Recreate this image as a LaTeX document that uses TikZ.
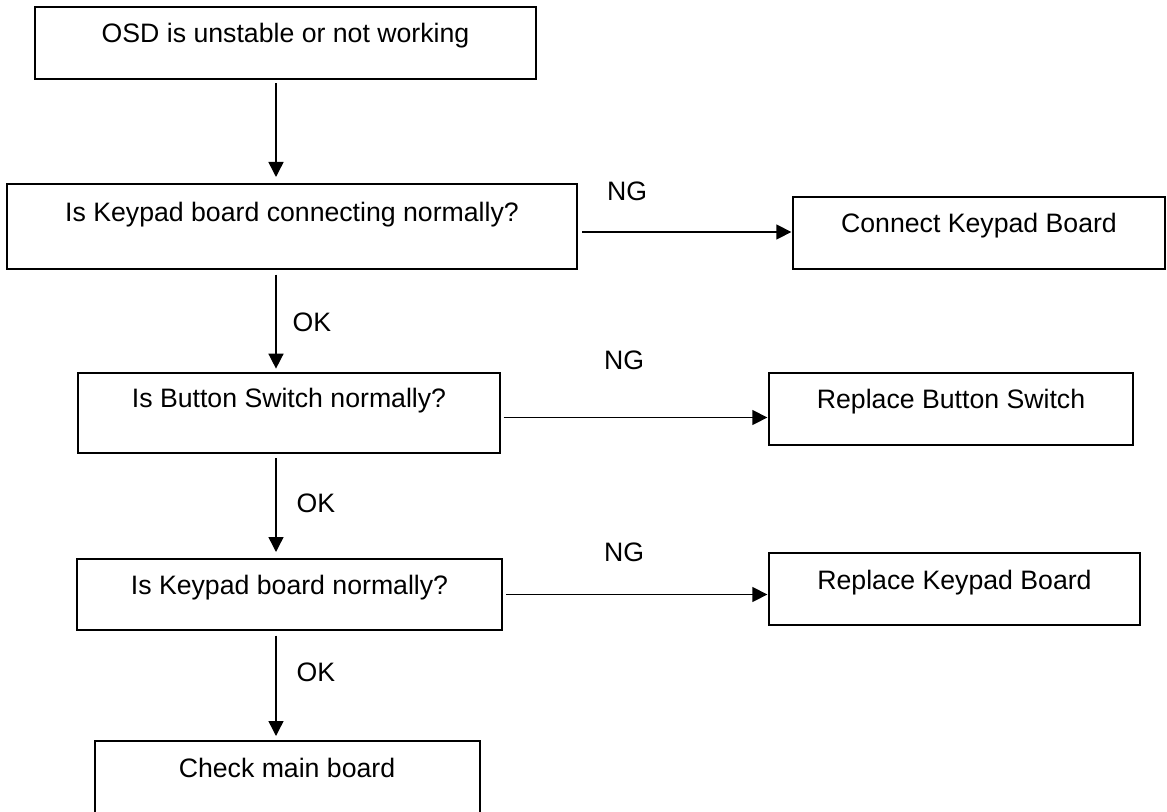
\documentclass[tikz,border=0pt]{standalone}
\usepackage{fontspec}
\setmainfont{Liberation Sans}
\usetikzlibrary{arrows.meta}
\begin{document}
\begin{tikzpicture}[x=0.75pt,y=-0.75pt,
  font=\fontsize{20}{24}\selectfont,
  box/.style={draw, line width=1.5pt, inner xsep=0pt, inner ysep=0pt, anchor=base},
  arr/.style={line width=1.1pt, -{Triangle[width=11.25pt,length=11.25pt]}},
  lbl/.style={inner sep=0pt, anchor=center}]
\useasboundingbox (0,0) rectangle (1167,811);
% main column
\node[box, minimum width=375.75pt, text height=26.63pt, text depth=27.38pt] (B1) at (285.5,42.5) {OSD is unstable or not working};
\node[box, minimum width=427.5pt, text height=28.13pt, text depth=35.63pt] (B2) at (292,221.5) {Is Keypad board connecting normally?};
\node[box, minimum width=316.5pt, text height=25.88pt, text depth=34.13pt] (B3) at (289,407.5) {Is Button Switch normally?};
\node[box, minimum width=318.75pt, text height=26.63pt, text depth=26.63pt] (B4) at (289.5,594.5) {Is Keypad board normally?};
\node[box, minimum width=288.75pt, text height=27.38pt, text depth=28.13pt] (B5) at (287,777.5) {Check main board};
% right column
\node[box, minimum width=279pt, text height=26.63pt, text depth=27.38pt] (C1) at (979,232.5) {Connect Keypad Board};
\node[box, minimum width=273pt, text height=26.63pt, text depth=27.38pt] (C2) at (951,408.5) {Replace Button Switch};
\node[box, minimum width=278.25pt, text height=27.38pt, text depth=26.63pt] (C3) at (954.5,589.5) {Replace Keypad Board};
% helper coordinates
\coordinate (ax) at (276,0);
\coordinate (y1) at (0,232);
\coordinate (y2) at (0,417.5);
\coordinate (y3) at (0,594.5);
% vertical arrows
\draw[arr, shorten <=2.25pt, shorten >=4.5pt] (B1.south -| ax) -- (B2.north -| ax);
\draw[arr, shorten <=3.5pt, shorten >=2.5pt] (B2.south -| ax) -- (B3.north -| ax);
\draw[arr, shorten <=3pt, shorten >=4.5pt] (B3.south -| ax) -- (B4.north -| ax);
\draw[arr, shorten <=3.5pt, shorten >=3pt] (B4.south -| ax) -- (B5.north -| ax);
% horizontal arrows
\draw[arr, shorten <=3pt, shorten >=0.5pt] (B2.east |- y1) -- (C1.west |- y1);
\draw[arr, shorten <=2pt, shorten >=0.5pt] (B3.east |- y2) -- (C2.west |- y2);
\draw[arr, shorten <=2.25pt, shorten >=0.5pt] (B4.east |- y3) -- (C3.west |- y3);
% labels
\node[lbl] (ok1) at (312,322) {OK};
\node[lbl] (ok2) at (316,503) {OK};
\node[lbl] (ok3) at (316,672) {OK};
\node[lbl] (ng1) at (627,191) {NG};
\node[lbl] (ng2) at (624,360) {NG};
\node[lbl] (ng3) at (624,552) {NG};
\end{tikzpicture}
\end{document}
